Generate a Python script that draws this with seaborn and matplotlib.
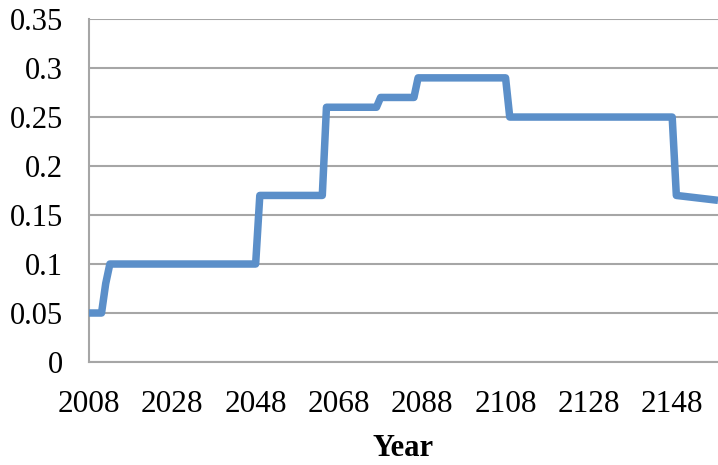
import matplotlib
matplotlib.use("Agg")
import matplotlib.pyplot as plt
import seaborn as sns
import pandas as pd

# breakpoints of the step series (year, value)
years = [2008, 2011, 2012, 2013, 2048, 2049, 2064, 2065, 2077, 2078,
         2086, 2087, 2108, 2109, 2148, 2149, 2159]
values = [0.05, 0.05, 0.08, 0.10, 0.10, 0.17, 0.17, 0.26, 0.26, 0.27,
          0.27, 0.29, 0.29, 0.25, 0.25, 0.170, 0.165]
xticks = list(range(2008, 2149, 20))
yticks = [0, 0.05, 0.1, 0.15, 0.2, 0.25, 0.3, 0.35]
ytick_labels = ["0", "0.05", "0.1", "0.15", "0.2", "0.25", "0.3", "0.35"]

df = pd.DataFrame({"Year": years, "Value": values})

sns.set_style("white")
plt.rcParams['font.family'] = ['Liberation Serif', 'DejaVu Serif']

fig = plt.figure(figsize=(7.18, 4.65), dpi=100)
ax = fig.add_axes([0.124, 0.2215, 0.876, 0.7375])

sns.lineplot(data=df, x="Year", y="Value", ax=ax, color="#5b8fc9",
             linewidth=5.4, solid_joinstyle="round", solid_capstyle="butt",
             clip_on=False, zorder=3)

grid_col = "#a6a6a6"
ax.set_xlim(2008, 2159)
ax.set_ylim(0, 0.35)
ax.set_xticks(xticks)
ax.set_xticklabels([str(t) for t in xticks])
ax.set_yticks(yticks)
ax.set_yticklabels(ytick_labels)
ax.yaxis.grid(True, color=grid_col, linewidth=1.5)
ax.xaxis.grid(False)
ax.set_axisbelow(True)

for s in ["top", "right"]:
    ax.spines[s].set_visible(False)
for s in ["left", "bottom"]:
    ax.spines[s].set_color(grid_col)
    ax.spines[s].set_linewidth(1.5)

ax.tick_params(axis="x", direction="out", length=7, width=1.5, color=grid_col,
               labelsize=22.5, pad=13, labelcolor="black")
ax.tick_params(axis="y", direction="out", length=9, width=1.5, color=grid_col,
               labelsize=22, pad=9.5, labelcolor="black")

ax.set_ylabel("")
ax.set_xlabel("Year", fontsize=22, fontweight="bold", labelpad=11, color="black")

fig.savefig("out.png", dpi=100)
